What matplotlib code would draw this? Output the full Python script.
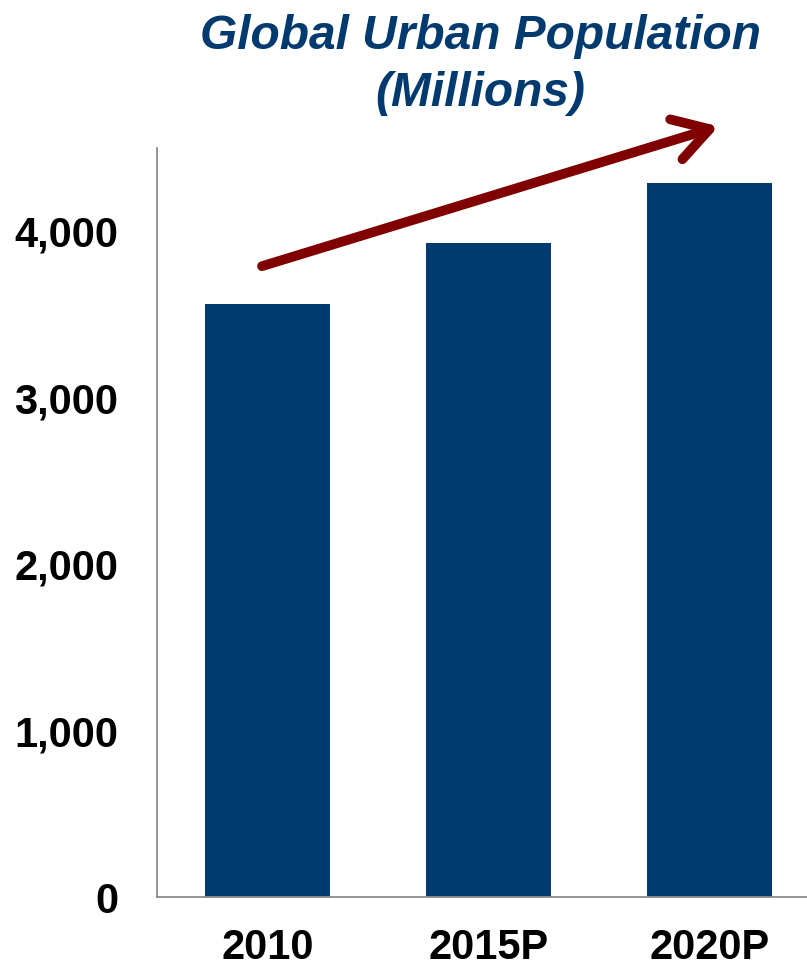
'''Global urban population bar chart'''

import matplotlib
matplotlib.use('Agg')
import matplotlib.pyplot as plt

# Data
years = ['2010', '2015P', '2020P']
population = [3560, 3930, 4290]      # millions
y_ticks = [0, 1000, 2000, 3000, 4000]
y_tick_labels = ['0', '1,000', '2,000', '3,000', '4,000']

# Trend arrow, in data units (start -> end)
arrow_start = (-0.025, 3790)
arrow_end = (2.04, 4630)

BAR_COLOR = '#003a6e'
TITLE_COLOR = '#003a6e'
ARROW_COLOR = '#800000'
SPINE_COLOR = '#8c8c8c'

plt.rcParams['font.family'] = ['Liberation Sans', 'DejaVu Sans']

fig = plt.figure(figsize=(8.07, 9.66), dpi=100)
ax = fig.add_axes([0.1945, 0.0714, 0.8055, 0.7754])

x = range(len(years))
ax.bar(x, population, width=0.566, color=BAR_COLOR)

ax.set_xlim(-0.5, 2.44)
ax.set_ylim(0, 4500)
ax.set_xticks(list(x))
ax.set_xticklabels(years, fontsize=30, fontweight='bold')
ax.set_yticks(y_ticks)
ax.set_yticklabels(y_tick_labels, fontsize=30, fontweight='bold')
ax.tick_params(axis='both', length=0)
ax.tick_params(axis='y', pad=28)
ax.tick_params(axis='x', pad=22)

for side in ['top', 'right']:
    ax.spines[side].set_visible(False)
for side in ['left', 'bottom']:
    ax.spines[side].set_color(SPINE_COLOR)
    ax.spines[side].set_linewidth(1.3)

# Trend arrow
ax.annotate('', xy=arrow_end, xytext=arrow_start, annotation_clip=False,
            arrowprops=dict(arrowstyle='->, head_length=1.25, head_width=0.75',
                            mutation_scale=20, color=ARROW_COLOR, lw=7,
                            capstyle='round', joinstyle='round',
                            shrinkA=0, shrinkB=0))

fig.text(0.595, 0.9325, 'Global Urban Population\n(Millions)',
         ha='center', va='center', fontsize=34.5, fontweight='bold',
         fontstyle='italic', color=TITLE_COLOR, linespacing=1.35)

fig.savefig('out.png', dpi=100)
